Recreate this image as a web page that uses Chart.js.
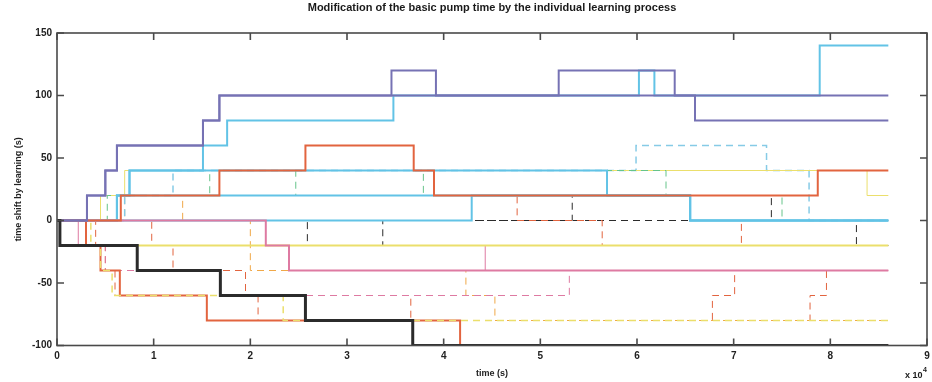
<!DOCTYPE html>
<html lang="en">
<head>
<meta charset="UTF-8">
<title>Basic pump time modification</title>
<script src="https://cdn.jsdelivr.net/npm/chart.js"></script>
<style>
  html, body { margin: 0; padding: 0; background: #fff; }
</style>
</head>
<body>
<canvas id="pumpChart" width="932" height="382"></canvas>
<script>
// axis ticks
const xTicks = [0, 1, 2, 3, 4, 5, 6, 7, 8, 9];        // time, x 10^4 s
const yTicks = [-100, -50, 0, 50, 100, 150];           // shift, s

// switching times (x 10^4 s) and the shift each pump holds from that time on
const purpleA_t = [0, 0.31, 0.50, 0.62, 1.51, 1.68, 3.46, 3.92, 5.19, 6.39, 8.6];
const purpleA_v = [0, 20, 40, 60, 80, 100, 120, 100, 120, 100, 100];
const purpleB_t = [0, 0.31, 0.50, 0.62, 1.51, 1.68, 6.60, 8.6];
const purpleB_v = [0, 20, 40, 60, 80, 100, 80, 80];
const black_t = [0, 0.03, 0.83, 1.69, 2.57, 3.68, 8.6];
const black_v = [0, -20, -40, -60, -80, -100, -100];
const redUp_t = [0, 0.66, 1.68, 2.57, 3.69, 3.90, 7.87, 8.6];
const redUp_v = [0, 20, 40, 60, 40, 20, 40, 40];
const redDown_t = [0, 0.30, 0.45, 0.65, 1.55, 4.17, 8.6];
const redDown_v = [0, -20, -40, -60, -80, -100, -100];
const cyanA_t = [0, 0.62, 0.75, 1.51, 1.76, 3.48, 6.02, 6.18, 7.89, 8.6];
const cyanA_v = [0, 20, 40, 60, 80, 100, 120, 100, 140, 140];
const cyanB_t = [0, 0.62, 0.75, 5.69, 6.55, 8.6];
const cyanB_v = [0, 20, 40, 20, 0, 0];
const cyanC_t = [0, 0.62, 6.55, 8.6];
const cyanC_v = [0, 20, 0, 0];
const cyanD_t = [0, 4.29, 6.55, 8.6];
const cyanD_v = [0, 20, 0, 0];
const pinkA_t = [0, 2.16, 2.40, 8.6];
const pinkA_v = [0, -20, -40, -40];
const pinkB_t = [0, 0.22, 4.43, 8.6];
const pinkB_v = [0, -20, -40, -40];
const pinkDash_t = [0, 0.30, 0.50, 1.69, 5.30, 8.6];
const pinkDash_v = [0, -20, -40, -60, -40, -40];
const yellowA_t = [0, 0.30, 8.6];
const yellowA_v = [0, -20, -20];
const yellowB_t = [0, 0.45, 0.70, 8.38, 8.6];
const yellowB_v = [0, 20, 40, 20, 20];
const yellowDash_t = [0, 0.35, 0.45, 0.57, 2.34, 8.6];
const yellowDash_v = [0, -20, -40, -60, -80, -80];
const blackDashA_t = [0, 8.27, 8.6];
const blackDashA_v = [0, -20, -20];
const blackDashB_t = [0, 2.59, 3.37, 5.33, 7.39, 8.6];
const blackDashB_v = [0, -20, 0, 20, 0, 0];
const redDashZ_t = [0, 0.62, 4.76, 5.64, 7.08, 8.6];
const redDashZ_v = [0, 20, 0, -20, 0, 0];
const redDashR_t = [0, 0.98, 1.20, 1.95, 2.08, 6.78, 7.01, 8.6];
const redDashR_v = [0, -20, -40, -60, -80, -60, -40, -40];
const redDashS_t = [0, 0.40, 0.50, 0.60, 3.66, 7.79, 7.96, 8.6];
const redDashS_v = [0, -20, -40, -60, -80, -60, -40, -40];
const green_t = [0, 0.52, 1.58, 2.47, 3.79, 6.30, 7.50, 8.6];
const green_v = [0, 20, 40, 20, 40, 20, 0, 0];
const lightBlue_t = [0, 0.70, 1.20, 5.99, 7.34, 7.78, 8.6];
const lightBlue_v = [0, 20, 40, 60, 40, 0, 0];
const orange_t = [0, 0.70, 1.30, 2.00, 4.23, 4.53, 8.6];
const orange_v = [0, 20, 0, -40, -60, -80, -80];

const C = {
    black: '#2b2b2b', purple: '#7672b4', red: '#e2643f', pink: '#de7aa2',
    cyan: '#62c3e6', yellow: '#ebdf6c', green: '#66c48a', lightBlue: '#86cbe6',
    orange: '#f0a848'
};
const DASH = [7, 5];

function steps(t, v) {
    return t.map((x, i) => ({ x: x, y: v[i] }));
}

function line(t, v, color, width, dash, offset) {
    return {
        data: steps(t, v),
        borderColor: color,
        borderWidth: width,
        borderDash: dash || [],
        borderDashOffset: offset || 0,
        stepped: true,
        pointRadius: 0,
        fill: false
    };
}

// the first dataset is painted on top of the others
const datasets = [
    line(black_t, black_v, C.black, 3),
    line(purpleA_t, purpleA_v, C.purple, 2),
    line(purpleB_t, purpleB_v, C.purple, 2),
    line(redUp_t, redUp_v, C.red, 2),
    line(pinkA_t, pinkA_v, C.pink, 2),
    line(cyanA_t, cyanA_v, C.cyan, 2),
    line(cyanB_t, cyanB_v, C.cyan, 2),
    line(cyanC_t, cyanC_v, C.cyan, 2),
    line(cyanD_t, cyanD_v, C.cyan, 2),
    line(yellowDash_t, yellowDash_v, C.yellow, 1.5, DASH),
    line(redDown_t, redDown_v, C.red, 2),
    line(yellowA_t, yellowA_v, C.yellow, 2),
    line(pinkB_t, pinkB_v, C.pink, 1),
    line(redDashZ_t, redDashZ_v, C.red, 1, DASH, 6),
    line(blackDashA_t, blackDashA_v, C.black, 1, DASH),
    line(blackDashB_t, blackDashB_v, C.black, 1, DASH),
    line(green_t, green_v, C.green, 1, DASH),
    line(yellowB_t, yellowB_v, C.yellow, 1),
    line(lightBlue_t, lightBlue_v, C.lightBlue, 1.5, DASH),
    line(pinkDash_t, pinkDash_v, C.pink, 1, DASH),
    line(redDashR_t, redDashR_v, C.red, 1, DASH),
    line(redDashS_t, redDashS_v, C.red, 1, DASH),
    line(orange_t, orange_v, C.orange, 1, DASH)
];

const FONT = '"Liberation Sans", Arial, sans-serif';

// box around the plot, inward ticks on all four sides, title and exponent
const framePlugin = {
    id: 'frame',
    afterDraw(chart) {
        const { ctx, chartArea: a, scales: { x, y } } = chart;
        ctx.save();
        ctx.strokeStyle = '#4a4a4a';
        ctx.lineWidth = 1.6;
        ctx.strokeRect(a.left, a.top, a.right - a.left, a.bottom - a.top);
        ctx.beginPath();
        xTicks.forEach(v => {
            const px = x.getPixelForValue(v);
            ctx.moveTo(px, a.bottom); ctx.lineTo(px, a.bottom - 7);
            ctx.moveTo(px, a.top); ctx.lineTo(px, a.top + 7);
        });
        yTicks.forEach(v => {
            const py = y.getPixelForValue(v);
            ctx.moveTo(a.left, py); ctx.lineTo(a.left + 7, py);
            ctx.moveTo(a.right, py); ctx.lineTo(a.right - 7, py);
        });
        ctx.stroke();

        ctx.fillStyle = '#1a1a1a';
        ctx.textAlign = 'center';
        ctx.textBaseline = 'middle';
        ctx.font = 'bold 11px ' + FONT;
        ctx.fillText('Modification of the basic pump time by the individual learning process',
            (a.left + a.right) / 2, 8);

        ctx.textAlign = 'left';
        ctx.font = 'bold 9px ' + FONT;
        ctx.fillText('x 10', 905, 376);
        ctx.font = 'bold 7px ' + FONT;
        ctx.fillText('4', 923, 370);
        ctx.restore();
    }
};

new Chart(document.getElementById('pumpChart'), {
    type: 'line',
    data: { datasets: datasets },
    options: {
        responsive: false,
        animation: false,
        layout: { padding: { left: 9, right: 5, top: 33, bottom: 0 } },
        plugins: { legend: { display: false }, tooltip: { enabled: false } },
        scales: {
            x: {
                type: 'linear',
                min: 0, max: 9,
                afterFit: s => { s.height = 36.5; s.paddingLeft = 0; s.paddingRight = 0; },
                afterBuildTicks: s => { s.ticks = xTicks.map(v => ({ value: v })); },
                grid: { display: false, drawTicks: false, tickLength: 0 },
                border: { display: false },
                ticks: { padding: 5, color: '#222', font: { family: FONT, size: 10, weight: 'bold' }, maxRotation: 0 },
                title: { display: true, text: 'time (s)', color: '#222',
                    font: { family: FONT, size: 9, weight: 'bold' }, padding: { top: 0, bottom: 3 } }
            },
            y: {
                min: -100, max: 150,
                afterFit: s => { s.width = 48; },
                afterBuildTicks: s => { s.ticks = yTicks.map(v => ({ value: v })); },
                grid: { display: false, drawTicks: false, tickLength: 0 },
                border: { display: false },
                ticks: { padding: 5, color: '#222', font: { family: FONT, size: 10, weight: 'bold' } },
                title: { display: true, text: 'time shift by learning (s)', color: '#222',
                    font: { family: FONT, size: 9, weight: 'bold' }, padding: { top: 4, bottom: 0 } }
            }
        }
    },
    plugins: [framePlugin]
});
</script>
</body>
</html>
